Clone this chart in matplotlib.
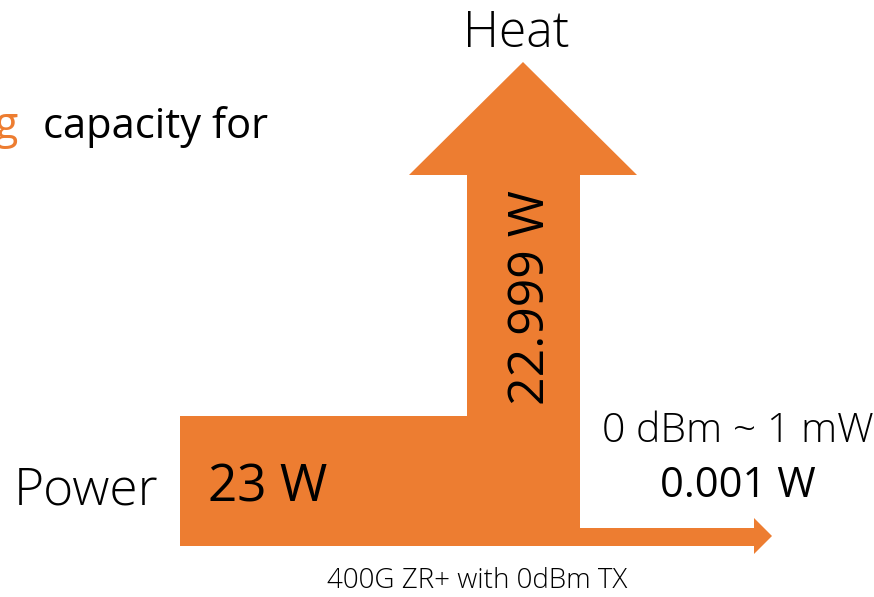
import matplotlib.pyplot as plt
from matplotlib.patches import Polygon

# ---- Data ----------------------------------------------------------------
flow_names = ["Power", "Heat"]
flow_values = [23, 22.999, 0.001]          # W: input, heat, optical out
value_labels = ["23 W", "22.999 W", "0.001 W"]
out_label = "0 dBm ~ 1 mW"
caption = "400G ZR+ with 0dBm TX"

ORANGE = "#ED7D31"

# ---- Shape (pixel coords, y downward) -------------------------------------
x0, x_stem_l, x_stem_r = 180, 467, 580
y_top, y_bot = 416, 546
head_y, head_l, head_r, tip = 175, 409, 637, (523, 62)
out_top, out_head_x, out_tip_x = 528, 754, 772
out_head_top, out_head_bot = 518, 554

fig = plt.figure(figsize=(8.74, 5.97), dpi=100)
ax = fig.add_axes([0, 0, 1, 1])
ax.set_xlim(0, 874)
ax.set_ylim(597, 0)
ax.axis("off")

shape = [
    (x0, y_top), (x_stem_l, y_top), (x_stem_l, head_y), (head_l, head_y),
    tip, (head_r, head_y), (x_stem_r, head_y), (x_stem_r, out_top),
    (out_head_x, out_top), (out_head_x, out_head_top),
    (out_tip_x, (out_head_top + out_head_bot) / 2),
    (out_head_x, out_head_bot), (out_head_x, y_bot), (x0, y_bot),
]
ax.add_patch(Polygon(shape, closed=True, facecolor=ORANGE, edgecolor="none"))

light = dict(family=["Open Sans", "DejaVu Sans"], fontweight="light", color="black")
reg = dict(family=["Open Sans", "DejaVu Sans"], color="black")

ax.text(516, 34, flow_names[1], ha="center", va="center", fontsize=36, **light)
ax.text(86, 491, flow_names[0], ha="center", va="center", fontsize=37, **light)
ax.text(268, 488, value_labels[0], ha="center", va="center", fontsize=37, **reg)
ax.text(531, 298, value_labels[1], ha="center", va="center", fontsize=36,
        rotation=90, **reg)
ax.text(738, 432, out_label, ha="center", va="center", fontsize=29.5, **light)
ax.text(738, 486, value_labels[2], ha="center", va="center", fontsize=30, **reg)
ax.text(477, 581, caption, ha="center", va="center", fontsize=20, **light)

# fragment of slide text cut at left edge
ax.text(18, 127, "g", ha="right", va="center", fontsize=31, color=ORANGE,
        family=["Open Sans", "DejaVu Sans"])
ax.text(43, 127, "capacity for", ha="left", va="center", fontsize=30,
        **reg)

fig.savefig("out.png", dpi=100)
